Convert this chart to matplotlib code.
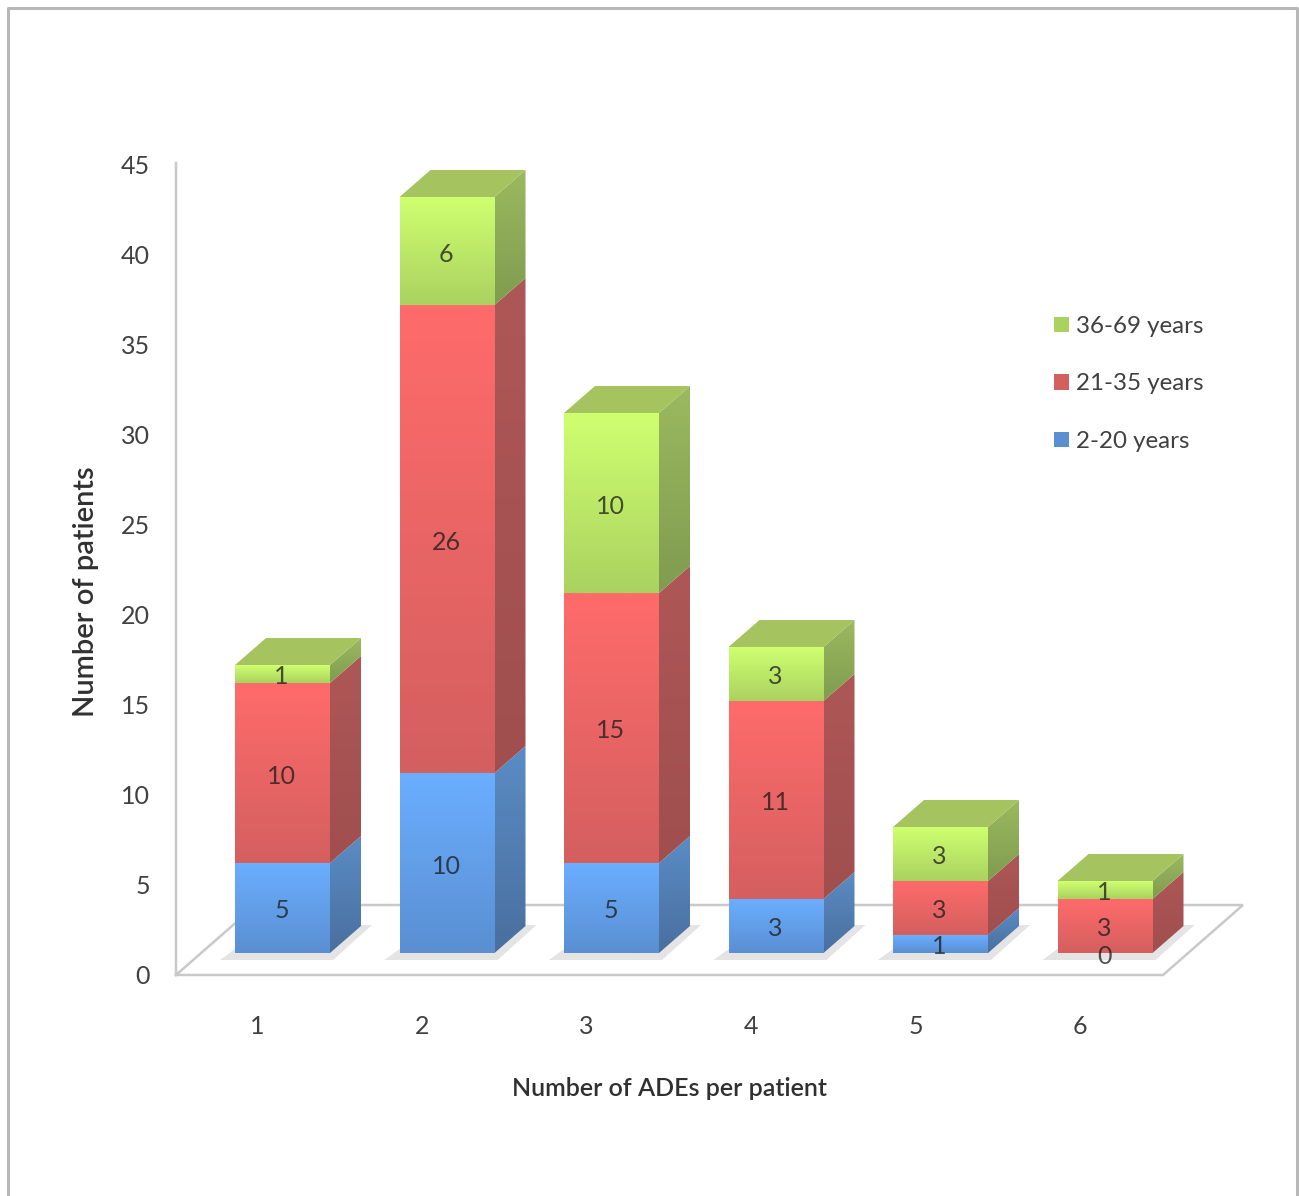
# -*- coding: utf-8 -*-
import numpy as np
import matplotlib
matplotlib.use('Agg')
import matplotlib.pyplot as plt
from matplotlib.patches import Polygon, Patch
from matplotlib.transforms import Affine2D

plt.rcParams['font.family'] = ['Lato', 'DejaVu Sans']

# data
categories = [1, 2, 3, 4, 5, 6]
age_2_20 = [5, 10, 5, 3, 1, 0]
age_21_35 = [10, 26, 15, 11, 3, 3]
age_36_69 = [1, 6, 10, 3, 3, 1]
series_names = ['2-20 years', '21-35 years', '36-69 years']
y_ticks = [0, 5, 10, 15, 20, 25, 30, 35, 40, 45]

W, H = 1299, 1196
UNIT_X, UNIT_Y = 164.5, 18.0   # pixels per category / per patient
half_w = 47.5 / UNIT_X
depth_x = 31 / UNIT_X
depth_y = 27 / UNIT_Y
text_col = '#404040'
line_col = '#C9C9C9'
label_shift = 3 / UNIT_Y       # text sits a little lower in the reference

# front top, front bottom, side top, side bottom
shades = [('#6BAEFF', '#5A8FD2', '#5A8CC4', '#4A6F9F'),
          ('#FF6B6B', '#D45F5F', '#AE5757', '#A04E4E'),
          ('#CFFF70', '#AAD260', '#9BB95F', '#7F9C50')]
top_col = '#A5C45F'

fig = plt.figure(figsize=(W / 100, H / 100), dpi=100)
ax = fig.add_axes([0, 0, 1, 1])
xlim = (1 - 282.5 / UNIT_X, 1 + (W - 282.5) / UNIT_X)
ylim = ((953 - H) / UNIT_Y, 953 / UNIT_Y)
ax.axis('off')

# pixels, counted from the top left like in the picture
px = Affine2D().scale(1, -1).translate(0, H)


def gradient_poly(pts, c_top, c_bottom, z):
    pts = np.array(pts)
    rgb_a = np.array(matplotlib.colors.to_rgb(c_top))
    rgb_b = np.array(matplotlib.colors.to_rgb(c_bottom))
    grad = np.linspace(rgb_a, rgb_b, 64).reshape(64, 1, 3)
    im = ax.imshow(grad, aspect='auto', interpolation='bilinear', zorder=z,
                   extent=(pts[:, 0].min(), pts[:, 0].max(), pts[:, 1].min(), pts[:, 1].max()))
    poly = Polygon(pts, closed=True, facecolor='none', edgecolor='none', transform=ax.transData)
    ax.add_patch(poly)
    im.set_clip_path(poly)


# frame, wall and floor
ax.plot([8, 8, 1297, 1297], [H, 8, 8, H], color='#B8B8B8', lw=2.2, transform=px, zorder=1)
ax.plot([176, 176, 1163, 1243, 256, 176], [163, 975, 975, 905, 905, 975],
        color=line_col, lw=1.8, transform=px, zorder=1, solid_joinstyle='miter')

# shadows under the bars
for c in categories:
    x0, x1 = c - half_w, c + half_w
    ax.add_patch(Polygon([(x0 - 15 / UNIT_X, -7 / UNIT_Y), (x1 + 3 / UNIT_X, -7 / UNIT_Y),
                          (x1 + 42 / UNIT_X, 28 / UNIT_Y), (x1 + 28 / UNIT_X, 28 / UNIT_Y),
                          (x0, 4 / UNIT_Y)],
                         closed=True, facecolor='#E4E4E4', edgecolor='none', zorder=2))

# bars
z = 3
for i, c in enumerate(categories):
    x0, x1 = c - half_w, c + half_w
    base = 0
    for vals, sh in zip([age_2_20, age_21_35, age_36_69], shades):
        v = vals[i]
        y0, y1 = base, base + v
        if v > 0:
            gradient_poly([(x1, y0), (x1 + depth_x, y0 + depth_y), (x1 + depth_x, y1 + depth_y), (x1, y1)],
                          sh[2], sh[3], z)
            gradient_poly([(x0, y0), (x1, y0), (x1, y1), (x0, y1)], sh[0], sh[1], z + 1)
            z += 2
        base = y1
    ax.add_patch(Polygon([(x0, base), (x1, base), (x1 + depth_x, base + depth_y), (x0 + depth_x, base + depth_y)],
                         closed=True, facecolor=top_col, edgecolor='none', zorder=z))
    z += 1

# value labels
for i, c in enumerate(categories):
    base = 0
    for vals in [age_2_20, age_21_35, age_36_69]:
        v = vals[i]
        ax.text(c - 1 / UNIT_X, base + v / 2 - label_shift, str(v), ha='center', va='center', fontsize=18,
                color='#1A1A1A', alpha=0.75, zorder=500)
        base += v

# tick labels, the wall stands behind the bars
for t in y_ticks:
    ax.text(150, 977 - 18 * t, str(t), ha='right', va='center', fontsize=18, color=text_col, transform=px)
for c in categories:
    ax.text(c - 25 / UNIT_X, -71 / UNIT_Y - label_shift, str(c), ha='center', va='center', fontsize=18, color=text_col)

ax.text(670, 1088, 'Number of ADEs per patient', ha='center', va='center', fontsize=18,
        color='#303030', fontweight='semibold', transform=px)
ax.text(86, 592, 'Number of patients', ha='center', va='center', rotation=90, fontsize=21,
        color='#303030', fontweight='semibold', transform=px)

handles = [Patch(facecolor=shades[k][1], edgecolor='none', label=series_names[k]) for k in [2, 1, 0]]
ax.legend(handles=handles, loc='upper left', bbox_to_anchor=(1054 / W, 1 - 316 / H), frameon=False,
          fontsize=17.4, labelcolor=text_col, handlelength=0.62, handleheight=0.62,
          handletextpad=0.3, labelspacing=1.51, borderpad=0, borderaxespad=0)

ax.set_xlim(xlim)
ax.set_ylim(ylim)
plt.savefig('out.png', dpi=100, facecolor='white')
